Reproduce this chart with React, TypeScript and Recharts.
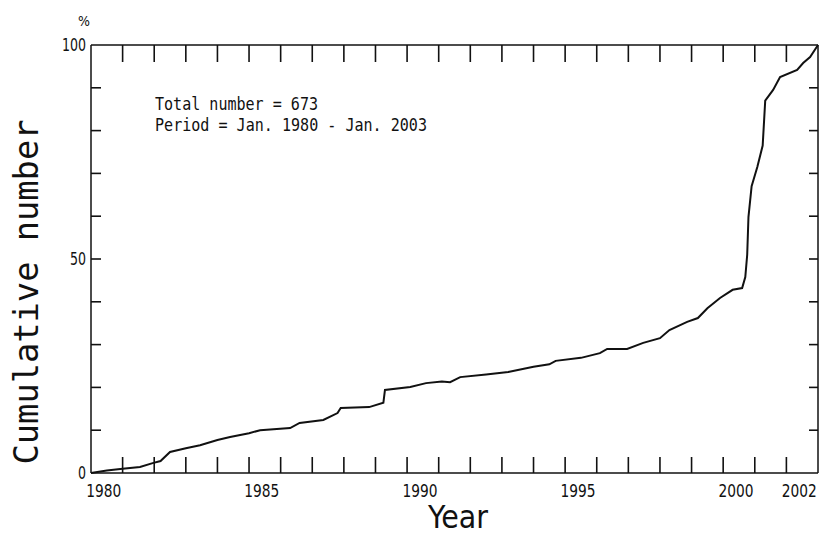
import { LineChart, Line, XAxis, YAxis, Customized } from "recharts";

// cumulative share of events (%)
const YEARS = [
  1980.0, 1980.5, 1981.0, 1981.55, 1981.95, 1982.2, 1982.5, 1983.0, 1983.45, 1984.0,
  1984.4, 1985.0, 1985.35, 1986.3, 1986.6, 1987.35, 1987.8, 1987.9, 1988.8, 1989.25,
  1989.3, 1990.1, 1990.6, 1991.1, 1991.36, 1991.68, 1992.5, 1993.2, 1994.0, 1994.5,
  1994.7, 1995.5, 1996.1, 1996.33, 1996.96, 1997.47, 1998.0, 1998.3, 1998.86, 1999.2,
  1999.5, 1999.9, 2000.3, 2000.6, 2000.7, 2000.76, 2000.8, 2000.9, 2001.08, 2001.25,
  2001.33, 2001.58, 2001.8, 2002.34, 2002.53, 2002.75, 2003.0,
];
const CUM_PCT = [
  0, 0.6, 1.0, 1.4, 2.3, 2.8, 4.9, 5.8, 6.5, 7.7,
  8.4, 9.3, 10.0, 10.5, 11.7, 12.4, 14.0, 15.2, 15.4, 16.4,
  19.4, 20.1, 21.0, 21.4, 21.2, 22.4, 23.0, 23.6, 24.8, 25.4,
  26.2, 26.9, 28.0, 29.0, 29.0, 30.4, 31.5, 33.4, 35.3, 36.2,
  38.5, 40.9, 42.8, 43.2, 45.8, 51.0, 59.8, 67.0, 71.5, 76.5,
  87.0, 89.5, 92.5, 94.2, 95.8, 97.2, 100,
];

const YEAR_TICKS = Array.from({ length: 24 }, (_, i) => 1980 + i);
const YEAR_LABELS = [1980, 1985, 1990, 1995, 2000, 2002];
const PCT_TICKS = [0, 10, 20, 30, 40, 50, 60, 70, 80, 90, 100];
const PCT_LABELS = [0, 50, 100];

const W = 820;
const H = 535;
// axes take 1px each, so plot area = 91..818 x 45..473
const M = { top: 44, right: 1, bottom: 61, left: 90 };
const P = { left: 91, right: 818, top: 45, bottom: 473 };
const YEAR_PX = (P.right - P.left) / (2003 - 1980);
const PCT_PX = (P.bottom - P.top) / 100;
const INK = "#111";
const NARROW = "'Liberation Sans Narrow', 'DejaVu Sans Condensed', 'Arial Narrow', sans-serif";
const MONO = "'DejaVu Sans Mono', 'Liberation Mono', monospace";
const AXIS_STYLE = { stroke: INK, strokeWidth: 1.5 };

const data = YEARS.map((year, i) => ({ year, pct: CUM_PCT[i] }));

function BottomLabel({ x, y, payload }: any) {
  const v = payload.value;
  if (!YEAR_LABELS.includes(v)) return <g />;
  return (
    <text
      x={x + YEAR_PX / 2 - 3}
      y={y + 24}
      textAnchor="middle"
      fontSize={17}
      fontFamily={NARROW}
      fill={INK}
      textLength={35}
      lengthAdjust="spacingAndGlyphs"
    >
      {v}
    </text>
  );
}

function LeftLabel({ x, y, payload }: any) {
  const v = payload.value;
  if (!PCT_LABELS.includes(v)) return <g />;
  const s = String(v);
  return (
    <text
      x={x - 5}
      y={y + 6}
      textAnchor="end"
      fontSize={17}
      fontFamily={NARROW}
      fill={INK}
      textLength={8 * s.length}
      lengthAdjust="spacingAndGlyphs"
    >
      {s}
    </text>
  );
}

const NoLabel = () => <g />;

// inward tick marks on all four sides of the frame
function FrameTicks() {
  const xs = YEAR_TICKS.slice(1, -1).map((yr) => P.left + (yr - 1980) * YEAR_PX);
  const ys = PCT_TICKS.slice(1, -1).map((p) => P.bottom - p * PCT_PX);
  return (
    <g stroke={INK} strokeWidth={1.6}>
      {xs.map((x, i) => (
        <g key={`x${i}`}>
          <line x1={x} y1={P.bottom} x2={x} y2={P.bottom - 16} />
          <line x1={x} y1={P.top} x2={x} y2={P.top + 17} />
        </g>
      ))}
      {ys.map((y, i) => (
        <g key={`y${i}`}>
          <line x1={P.left} y1={y} x2={P.left + 10} y2={y} />
          <line x1={P.right} y1={y} x2={P.right - 9} y2={y} />
        </g>
      ))}
    </g>
  );
}

function Texts() {
  return (
    <g fill={INK}>
      <text x={78} y={26} fontSize={14} fontFamily={NARROW}>%</text>
      <text x={155} y={110} fontSize={17} fontFamily={MONO} textLength={163} lengthAdjust="spacingAndGlyphs">
        Total number = 673
      </text>
      <text x={155} y={131} fontSize={17} fontFamily={MONO} textLength={272} lengthAdjust="spacingAndGlyphs">
        Period = Jan. 1980 - Jan. 2003
      </text>
      <text
        x={38}
        y={292}
        transform="rotate(-90, 38, 292)"
        textAnchor="middle"
        fontSize={33}
        fontFamily={MONO}
        textLength={345}
        lengthAdjust="spacingAndGlyphs"
      >
        Cumulative number
      </text>
      <text x={458} y={528} textAnchor="middle" fontSize={32} fontFamily={NARROW} textLength={60} lengthAdjust="spacingAndGlyphs">
        Year
      </text>
    </g>
  );
}

export default function App() {
  return (
    <div style={{ position: "absolute", left: 0, top: 0, width: W, height: H, background: "#fff" }}>
      <LineChart width={W} height={H} data={data} margin={M}>
        <XAxis
          xAxisId="bottom"
          dataKey="year"
          type="number"
          domain={[1980, 2003]}
          ticks={YEAR_TICKS}
          interval={0}
          height={1}
          tickSize={0}
          tickMargin={0}
          tickLine={false}
          axisLine={AXIS_STYLE}
          tick={<BottomLabel />}
        />
        <XAxis
          xAxisId="top"
          orientation="top"
          dataKey="year"
          type="number"
          domain={[1980, 2003]}
          height={1}
          tickLine={false}
          axisLine={AXIS_STYLE}
          tick={<NoLabel />}
        />
        <YAxis
          yAxisId="left"
          type="number"
          domain={[0, 100]}
          ticks={PCT_TICKS}
          interval={0}
          width={1}
          tickSize={0}
          tickMargin={0}
          tickLine={false}
          axisLine={AXIS_STYLE}
          tick={<LeftLabel />}
        />
        <YAxis
          yAxisId="right"
          orientation="right"
          type="number"
          domain={[0, 100]}
          width={1}
          tickLine={false}
          axisLine={AXIS_STYLE}
          tick={<NoLabel />}
        />
        <Line
          xAxisId="bottom"
          yAxisId="left"
          type="linear"
          dataKey="pct"
          stroke={INK}
          strokeWidth={2}
          dot={false}
          isAnimationActive={false}
        />
        <Customized component={FrameTicks} />
        <Customized component={Texts} />
      </LineChart>
    </div>
  );
}
